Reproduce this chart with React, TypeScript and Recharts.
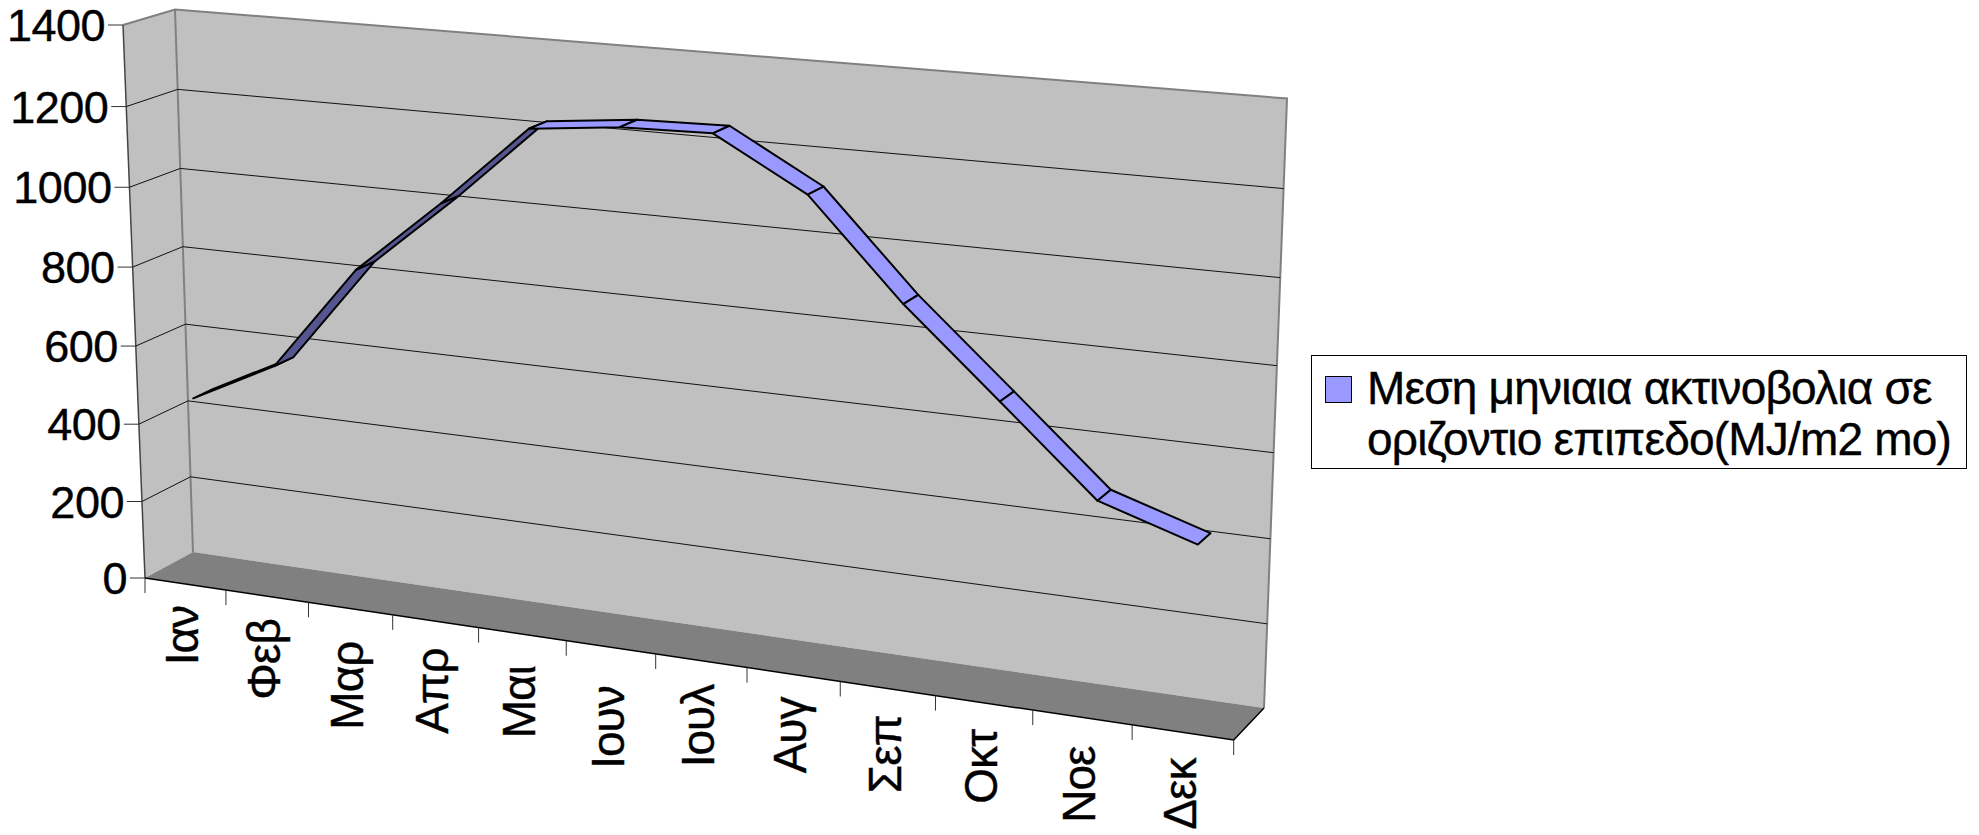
import { LineChart, Line, XAxis, YAxis, CartesianGrid, Legend } from "recharts";

const MONTHS = ["Ιαν", "Φεβ", "Μαρ", "Απρ", "Μαι", "Ιουν", "Ιουλ", "Αυγ", "Σεπ", "Οκτ", "Νοε", "Δεκ"];
const RADIATION = [462, 570, 835, 1020, 1219, 1242, 1247, 1125, 894, 693, 490, 418];
const Y_TICKS = [0, 200, 400, 600, 800, 1000, 1200, 1400];
const SERIES_NAME = "Μεση μηνιαια ακτινοβολια σε οριζοντιο επιπεδο(MJ/m2 mo)";

const data = MONTHS.map((month, i) => ({ month, value: RADIATION[i] }));

const WIDTH = 1979;
const HEIGHT = 835;
const PLOT = { left: 100, right: 100, top: 100, bottom: 100 };
const FONT = "'Liberation Sans', Arial, sans-serif";

// the original's rotated labels don't sit evenly under the axis
const LABEL_NUDGE = [-1, 0, 10, 4, 9, 16, 1, 0, 4, 4, 6, 3];

type Pt = [number, number];

// corners of the box in page pixels: bottom left, bottom right, top right, top left
const FRONT: Pt[] = [[145, 578], [1233.7, 740], [1256, 118], [123, 25]];
const BACK: Pt[] = [[193, 552], [1264, 708], [1287, 98.5], [175, 9.5]];
const RIBBON_DEPTH = [0.3, 0.7];

function homography(q: Pt[]) {
  const [[x0, y0], [x1, y1], [x2, y2], [x3, y3]] = q;
  const dx1 = x1 - x2, dx2 = x3 - x2, dx3 = x0 - x1 + x2 - x3;
  const dy1 = y1 - y2, dy2 = y3 - y2, dy3 = y0 - y1 + y2 - y3;
  const den = dx1 * dy2 - dx2 * dy1;
  const g = (dx3 * dy2 - dx2 * dy3) / den;
  const h = (dx1 * dy3 - dx3 * dy1) / den;
  const a = x1 - x0 + g * x1, b = x3 - x0 + h * x3;
  const d = y1 - y0 + g * y1, e = y3 - y0 + h * y3;
  return (u: number, v: number): Pt => {
    const w = g * u + h * v + 1;
    return [(a * u + b * v + x0) / w, (d * u + e * v + y0) / w];
  };
}

const frontPlane = homography(FRONT);
const backPlane = homography(BACK);

// u along the months, v up the value axis, depth 0 = front, 1 = back wall
function project(u: number, v: number, depth: number): Pt {
  const f = frontPlane(u, v);
  const b = backPlane(u, v);
  return [f[0] + (b[0] - f[0]) * depth, f[1] + (b[1] - f[1]) * depth];
}

const toU = (x: number) => (x - PLOT.left) / (WIDTH - PLOT.left - PLOT.right);
const toV = (y: number) => (HEIGHT - PLOT.bottom - y) / (HEIGHT - PLOT.top - PLOT.bottom);
const pts = (list: Pt[]) => list.map((p) => p.join(",")).join(" ");

function RibbonShape(props: any) {
  const points = props.points as { x: number; y: number }[];
  const quads = [];
  for (let i = 0; i < points.length - 1; i++) {
    const a = points[i];
    const c = points[i + 1];
    const f0 = project(toU(a.x), toV(a.y), RIBBON_DEPTH[0]);
    const b0 = project(toU(a.x), toV(a.y), RIBBON_DEPTH[1]);
    const f1 = project(toU(c.x), toV(c.y), RIBBON_DEPTH[0]);
    const b1 = project(toU(c.x), toV(c.y), RIBBON_DEPTH[1]);
    const cross = (f1[0] - f0[0]) * (b0[1] - f0[1]) - (f1[1] - f0[1]) * (b0[0] - f0[0]);
    quads.push(
      <polygon
        key={i}
        points={pts([f0, f1, b1, b0])}
        fill={cross > 0 ? "#55558F" : props.stroke}
        stroke="#000"
        strokeWidth={2}
        strokeLinejoin="round"
      />
    );
  }
  return <g>{quads}</g>;
}

function GridLine(props: any) {
  const v = toV(props.y1);
  if (v < 0.001 || v > 0.999) return <g />;
  return (
    <polyline
      points={pts([project(0, v, 0), project(0, v, 1), project(1, v, 1)])}
      fill="none"
      stroke="#111"
      strokeWidth={1}
    />
  );
}

function YTick(props: any) {
  const [x, y] = project(0, toV(props.y), 0);
  return (
    <g>
      <line x1={x - 15} y1={y} x2={x} y2={y} stroke="#333" strokeWidth={1} />
      <text
        x={x - 18}
        y={y + 16}
        textAnchor="end"
        fontFamily={FONT}
        fontSize={45}
        letterSpacing={-0.5}
        fill="#000"
        stroke="#000"
        strokeWidth={0.4}
      >
        {props.payload.value}
      </text>
    </g>
  );
}

function XTick(props: any) {
  const u = toU(props.x);
  const half = 1 / (2 * MONTHS.length);
  const [x, y] = project(u, 0, 0);
  const marks = [u - half];
  if (props.index === MONTHS.length - 1) marks.push(u + half);
  return (
    <g>
      {marks.map((m) => {
        const [mx, my] = project(m, 0, 0);
        return <line key={m} x1={mx} y1={my} x2={mx} y2={my + 15} stroke="#333" strokeWidth={1} />;
      })}
      <text
        transform={`translate(${x + 13},${y + 23 + LABEL_NUDGE[props.index]}) rotate(-90)`}
        textAnchor="end"
        fontFamily={FONT}
        fontSize={46}
        letterSpacing={-1}
        fill="#000"
        stroke="#000"
        strokeWidth={0.4}
      >
        {props.payload.value}
      </text>
    </g>
  );
}

function LegendBox(props: any) {
  const item = props.payload?.[0];
  if (!item) return null;
  return (
    <div
      style={{
        boxSizing: "border-box",
        width: 656,
        height: 114,
        border: "1px solid #000",
        background: "#fff",
        position: "relative",
        fontFamily: FONT,
        fontSize: 46,
        lineHeight: "51px",
        letterSpacing: -0.8,
        WebkitTextStroke: "0.4px #000",
        color: "#000",
      }}
    >
      <div
        style={{
          position: "absolute",
          left: 13,
          top: 20,
          width: 27,
          height: 27,
          boxSizing: "border-box",
          background: item.color,
          border: "1.5px solid #000",
        }}
      />
      <div style={{ position: "absolute", left: 55, top: 7, width: 600 }}>{item.value}</div>
    </div>
  );
}

export default function App() {
  return (
    <div style={{ position: "absolute", left: 0, top: 0, width: WIDTH, height: HEIGHT }}>
      <LineChart
        width={WIDTH}
        height={HEIGHT}
        data={data}
        margin={{ left: PLOT.left - 1, right: PLOT.right, top: PLOT.top, bottom: PLOT.bottom - 1 }}
      >
        <polygon points={pts([FRONT[0], BACK[0], BACK[3], FRONT[3]])} fill="#C0C0C0" />
        <polygon points={pts([BACK[0], BACK[1], BACK[2], BACK[3]])} fill="#C0C0C0" />
        <polygon points={pts([FRONT[0], FRONT[1], BACK[1], BACK[0]])} fill="#808080" />
        <polyline points={pts([FRONT[3], BACK[3], BACK[2], BACK[1]])} fill="none" stroke="#808080" strokeWidth={2} />
        <line x1={BACK[3][0]} y1={BACK[3][1]} x2={BACK[0][0]} y2={BACK[0][1]} stroke="#808080" strokeWidth={2} />
        <line x1={FRONT[3][0]} y1={FRONT[3][1]} x2={FRONT[0][0]} y2={FRONT[0][1]} stroke="#444" strokeWidth={1.5} />
        <polyline points={pts([FRONT[0], FRONT[1], BACK[1]])} fill="none" stroke="#000" strokeWidth={1.5} />
        <CartesianGrid vertical={false} horizontal={GridLine} zIndex={1} />
        <XAxis dataKey="month" scale="band" height={1} interval={0} axisLine={false} tickLine={false} tick={XTick} />
        <YAxis domain={[0, 1400]} ticks={Y_TICKS} width={1} interval={0} axisLine={false} tickLine={false} tick={YTick} />
        <Line
          dataKey="value"
          name={SERIES_NAME}
          stroke="#9999FF"
          dot={false}
          shape={RibbonShape}
          isAnimationActive={false}
        />
        <Legend
          content={LegendBox}
          layout="vertical"
          align="center"
          verticalAlign="middle"
          wrapperStyle={{ left: 1311, top: 355, width: 656, height: 114 }}
        />
      </LineChart>
    </div>
  );
}
